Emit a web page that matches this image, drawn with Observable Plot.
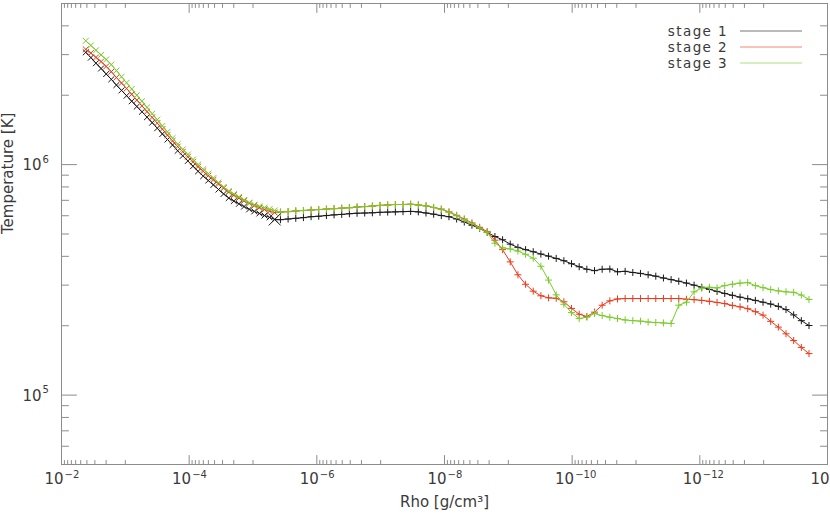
<!DOCTYPE html>
<html><head><meta charset="utf-8">
<script src="https://cdn.jsdelivr.net/npm/d3@7"></script>
<script src="https://cdn.jsdelivr.net/npm/@observablehq/plot@0.6"></script>
<style>body{margin:0;background:#fff} #chart{width:830px;height:522px}</style>
</head><body><div id="chart"></div>
<script>
const stageNames = ["stage 1", "stage 2", "stage 3"];
const stageColors = ["#1a1a1a", "#ec3a1c", "#78cc2a"];

// log10(Rho) of the dense inner branch and the outer branch
const logRhoInner = [-2.38,-2.46,-2.54,-2.62,-2.70,-2.78,-2.86,-2.94,-3.02,-3.10,-3.18,-3.26,-3.34,-3.42,-3.50,-3.58,-3.66,-3.74,-3.82,-3.90,-3.98,-4.06,-4.14,-4.22,-4.30,-4.38,-4.46,-4.54,-4.62,-4.70,-4.78,-4.86,-4.94,-5.02,-5.10,-5.18,-5.26,-5.34];
const logRhoOuter = [-5.43,-5.55,-5.67,-5.79,-5.91,-6.03,-6.15,-6.27,-6.39,-6.51,-6.63,-6.75,-6.87,-6.99,-7.11,-7.23,-7.35,-7.47,-7.59,-7.71,-7.83,-7.95,-8.07,-8.19,-8.31,-8.43,-8.55,-8.67,-8.79,-8.91,-9.03,-9.15,-9.27,-9.39,-9.51,-9.63,-9.75,-9.87,-9.99,-10.11,-10.23,-10.35,-10.47,-10.59,-10.71,-10.83,-10.95,-11.07,-11.19,-11.31,-11.43,-11.55,-11.67,-11.79,-11.91,-12.03,-12.15,-12.27,-12.39,-12.51,-12.63,-12.75,-12.87,-12.99,-13.11,-13.23,-13.35,-13.47,-13.59,-13.71];

// log10(Temperature)
const logT1Inner = [6.487,6.464,6.440,6.417,6.393,6.370,6.345,6.322,6.299,6.275,6.252,6.229,6.206,6.182,6.158,6.133,6.109,6.085,6.060,6.038,6.016,5.993,5.971,5.950,5.931,5.912,5.892,5.873,5.855,5.842,5.830,5.818,5.806,5.797,5.788,5.779,5.771,5.762];
const logT2Inner = [6.500,6.484,6.465,6.447,6.426,6.403,6.378,6.354,6.330,6.305,6.280,6.255,6.230,6.205,6.180,6.154,6.128,6.103,6.078,6.056,6.034,6.012,5.991,5.971,5.952,5.934,5.916,5.898,5.881,5.867,5.855,5.843,5.832,5.822,5.813,5.805,5.798,5.792];
const logT3Inner = [6.537,6.517,6.496,6.476,6.456,6.434,6.408,6.381,6.355,6.328,6.301,6.275,6.248,6.221,6.195,6.168,6.142,6.115,6.089,6.066,6.044,6.022,6.000,5.980,5.961,5.942,5.922,5.903,5.885,5.872,5.860,5.847,5.835,5.826,5.819,5.813,5.807,5.801];

const logT1Outer = [5.761,5.764,5.767,5.770,5.774,5.776,5.779,5.782,5.784,5.787,
  5.789,5.790,5.791,5.793,5.794,5.795,5.796,5.797,5.795,5.790,
  5.785,5.779,5.774,5.764,5.751,5.737,5.723,5.706,5.688,5.674,
  5.655,5.641,5.631,5.622,5.612,5.603,5.593,5.583,5.570,5.557,
  5.546,5.540,5.546,5.547,5.535,5.537,5.532,5.528,5.522,5.516,
  5.508,5.501,5.494,5.486,5.477,5.468,5.459,5.450,5.441,5.433,
  5.425,5.418,5.411,5.403,5.395,5.385,5.371,5.348,5.323,5.302];
const logT2Outer = [5.794,5.796,5.799,5.801,5.803,5.805,5.807,5.809,5.811,5.813,
  5.816,5.818,5.820,5.823,5.825,5.827,5.827,5.828,5.825,5.821,
  5.814,5.807,5.795,5.780,5.764,5.747,5.728,5.709,5.672,5.631,
  5.578,5.522,5.481,5.451,5.431,5.422,5.420,5.405,5.376,5.351,
  5.341,5.360,5.390,5.409,5.417,5.419,5.419,5.419,5.419,5.419,
  5.419,5.419,5.419,5.416,5.414,5.411,5.407,5.402,5.397,5.389,
  5.383,5.375,5.362,5.347,5.320,5.295,5.266,5.237,5.207,5.180];
const logT3Outer = [5.794,5.796,5.799,5.801,5.803,5.805,5.807,5.809,5.811,5.813,
  5.816,5.818,5.820,5.823,5.825,5.827,5.827,5.828,5.825,5.821,
  5.814,5.806,5.793,5.778,5.761,5.744,5.724,5.706,5.659,5.639,
  5.634,5.625,5.611,5.594,5.559,5.499,5.435,5.394,5.358,5.332,
  5.338,5.354,5.345,5.338,5.332,5.326,5.323,5.321,5.317,5.315,
  5.313,5.311,5.390,5.403,5.448,5.464,5.468,5.465,5.475,5.481,
  5.486,5.488,5.475,5.466,5.458,5.452,5.448,5.446,5.434,5.415];

const xTickValues = [1e-2, 1e-4, 1e-6, 1e-8, 1e-10, 1e-12, 1e-14];
const xTickExponents = ["\u22122", "\u22124", "\u22126", "\u22128", "\u221210", "\u221212", "\u221214"];
const yTickValues = [1e5, 1e6];
const yTickExponents = ["5", "6"];
const xTitle = "Rho [g/cm\u00B3]";
const yTitle = "Temperature [K]";

// build table
const innerT = [logT1Inner, logT2Inner, logT3Inner];
const outerT = [logT1Outer, logT2Outer, logT3Outer];
const rows = [];
stageNames.forEach((s, i) => {
  logRhoInner.forEach((lr, j) => rows.push({stage: s, part: "inner", rho: 10 ** lr, T: 10 ** innerT[i][j]}));
  logRhoOuter.forEach((lr, j) => rows.push({stage: s, part: "outer", rho: 10 ** lr, T: 10 ** outerT[i][j]}));
});

// minor tick values
const xMinor = [];
xTickValues.slice(0, -1).forEach(v => { for (let j = 1; j <= 9; j++) xMinor.push(j * v / 10); });
const yMinor = [];
[1e4, 1e5, 1e6].forEach(v => { for (let j = 2; j <= 9; j++) { const t = j * v; if (t >= 5e4 && t <= 5e6) yMinor.push(t); } });

const tickShape = {draw(ctx, l) { ctx.moveTo(0, 0); ctx.lineTo(0, -l); }};
const axisColor = "#8c8c8c";
const textColor = "#3a3a3a";
const tickOpts = {shape: tickShape, anchor: "start", stroke: axisColor, strokeWidth: 1};

const marks = [
  Plot.frame({stroke: axisColor}),
  Plot.vectorX(xMinor, {...tickOpts, frameAnchor: "bottom", length: 4, rotate: 0}),
  Plot.vectorX(xMinor, {...tickOpts, frameAnchor: "top", length: 4, rotate: 180}),
  Plot.vectorX(xTickValues, {...tickOpts, frameAnchor: "bottom", length: 9, rotate: 0}),
  Plot.vectorX(xTickValues, {...tickOpts, frameAnchor: "top", length: 9, rotate: 180}),
  Plot.vectorY(yMinor, {...tickOpts, frameAnchor: "left", length: 7, rotate: 90}),
  Plot.vectorY(yMinor, {...tickOpts, frameAnchor: "right", length: 7, rotate: -90}),
  Plot.vectorY(yTickValues, {...tickOpts, frameAnchor: "left", length: 15, rotate: 90}),
  Plot.vectorY(yTickValues, {...tickOpts, frameAnchor: "right", length: 15, rotate: -90}),
  Plot.text(xTickValues, {x: d => d, frameAnchor: "bottom", text: () => "10", textAnchor: "end", dx: 2, dy: 19, fontSize: 15, fill: textColor}),
  Plot.text(xTickValues, {x: d => d, frameAnchor: "bottom", text: (d, i) => xTickExponents[i], textAnchor: "start", dx: 3, dy: 13, fontSize: 10, fill: textColor}),
  Plot.text(yTickValues, {y: d => d, frameAnchor: "left", text: () => "10", textAnchor: "end", dx: -20, dy: 1, fontSize: 15, fill: textColor}),
  Plot.text(yTickValues, {y: d => d, frameAnchor: "left", text: (d, i) => yTickExponents[i], textAnchor: "start", dx: -19, dy: -5, fontSize: 10, fill: textColor}),
  Plot.text([yTitle], {frameAnchor: "left", text: d => d, rotate: -90, dx: -53, fontSize: 15, fill: textColor, letterSpacing: "1.3px"}),
  Plot.text([xTitle], {frameAnchor: "bottom", text: d => d, dy: 42, fontSize: 15, fill: textColor, letterSpacing: "0.8px"})
];

stageNames.forEach(s => {
  const sRows = rows.filter(d => d.stage === s);
  marks.push(Plot.line(sRows, {x: "rho", y: "T", stroke: "stage", strokeWidth: 1}));
  marks.push(Plot.dot(sRows.filter(d => d.part === "inner"), {x: "rho", y: "T", stroke: "stage", symbol: "times", r: 2.8, strokeWidth: 1}));
  marks.push(Plot.dot(sRows.filter(d => d.part === "outer"), {x: "rho", y: "T", stroke: "stage", symbol: "plus", r: 2.4, strokeWidth: 1}));
});
// large cross at the junction of stage 1
marks.push(Plot.dot(rows.filter(d => d.stage === stageNames[0] && d.part === "inner").slice(-1), {x: "rho", y: "T", stroke: "stage", symbol: "times", r: 5.5, strokeWidth: 1}));

const chart = Plot.plot({
  width: 830, height: 522,
  marginLeft: 61, marginRight: 3, marginTop: 3, marginBottom: 58,
  x: {type: "log", domain: [1e-2, 1e-14], axis: null},
  y: {type: "log", domain: [5e4, 5e6], axis: null},
  color: {domain: stageNames, range: stageColors},
  style: {fontFamily: "DejaVu Sans", fontSize: "15px", background: "white", color: "#333"},
  marks
});
document.getElementById("chart").appendChild(chart);

// legend inside the plot area (top right)
const svg = d3.select(chart);
const lg = svg.append("g").attr("font-family", "DejaVu Sans").attr("font-size", 13.5).attr("letter-spacing", "1.4px");
stageNames.forEach((s, i) => {
  const y = 31 + 16 * i;
  lg.append("text").attr("x", 728).attr("y", y).attr("dy", "0.35em").attr("text-anchor", "end").attr("fill", textColor).text(s);
  lg.append("line").attr("x1", 740).attr("x2", 802).attr("y1", y).attr("y2", y).attr("stroke", stageColors[i]).attr("stroke-opacity", 0.6);
});
</script>
</body></html>
